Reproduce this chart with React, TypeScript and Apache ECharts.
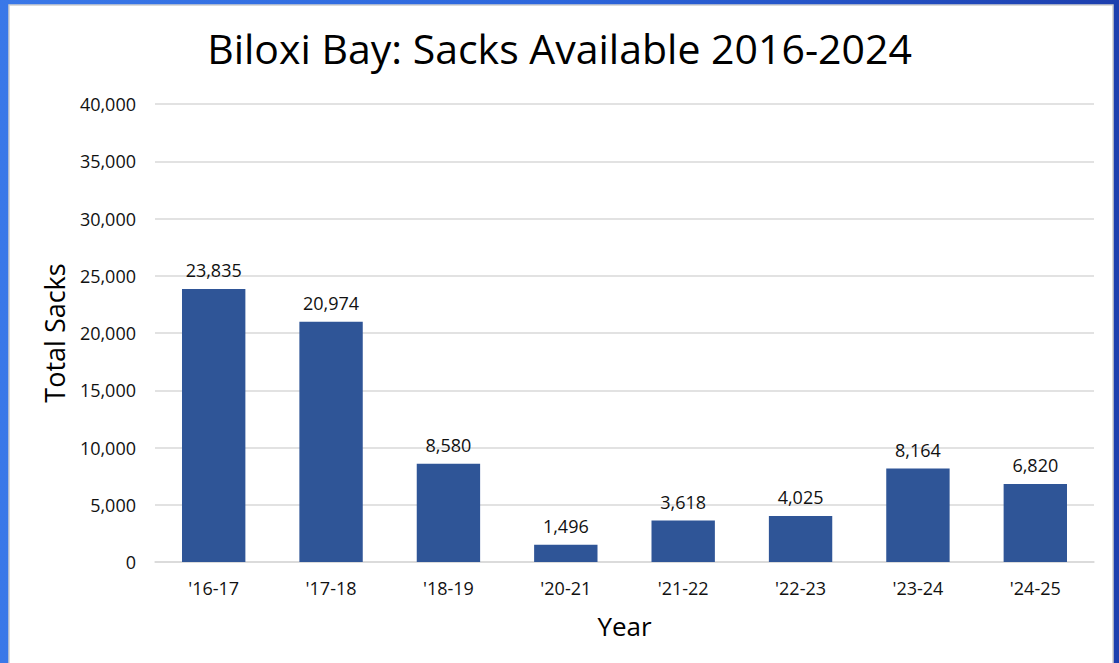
import React, { useEffect, useRef } from "react";
import * as echarts from "echarts";

const categories = ["'16-17", "'17-18", "'18-19", "'20-21", "'21-22", "'22-23", "'23-24", "'24-25"];
const sacks = [23835, 20974, 8580, 1496, 3618, 4025, 8164, 6820];
const titleText = "Biloxi Bay: Sacks Available 2016-2024";
const yAxisName = "Total Sacks";
const xAxisName = "Year";

const FONT = "Open Sans";

export default function App() {
  const ref = useRef<HTMLDivElement>(null);
  useEffect(() => {
    if (!ref.current) return;
    const chart = echarts.init(ref.current, undefined, { renderer: "svg" });
    chart.setOption({
      animation: false,
      backgroundColor: "transparent",
      textStyle: { fontFamily: FONT },
      graphic: [
        {
          type: "rect",
          z: -10,
          shape: { x: 9, y: 5, width: 1104, height: 670 },
          style: { fill: "#ffffff", stroke: "#d0d0d0", lineWidth: 1.5 },
        },
        {
          type: "text",
          left: "center",
          top: 27,
          style: { text: titleText, fontSize: 41, fontFamily: FONT, fill: "#000000" },
        },
      ],
      grid: { left: 155, right: 25, top: 104, bottom: 101 },
      xAxis: {
        type: "category",
        data: categories,
        name: xAxisName,
        nameLocation: "middle",
        nameGap: 51,
        nameTextStyle: { fontSize: 26, color: "#000000", fontFamily: FONT },
        axisLine: { lineStyle: { color: "#d9d9d9", width: 1.5 } },
        axisTick: { show: false },
        axisLabel: { fontSize: 18, color: "#111111", margin: 17, fontFamily: FONT },
      },
      yAxis: {
        type: "value",
        min: 0,
        max: 40000,
        interval: 5000,
        name: yAxisName,
        nameLocation: "middle",
        nameGap: 87,
        nameTextStyle: { fontSize: 27, color: "#000000", fontFamily: FONT },
        axisLine: { show: false },
        axisTick: { show: false },
        splitLine: { lineStyle: { color: "#d9d9d9", width: 1.5 } },
        axisLabel: {
          fontSize: 18,
          color: "#111111",
          margin: 19,
          fontFamily: FONT,
          formatter: (v: number) => v.toLocaleString("en-US"),
        },
      },
      series: [
        {
          type: "bar",
          data: sacks,
          barWidth: "54%",
          itemStyle: { color: "#2F5597" },
          label: {
            show: true,
            position: "top",
            distance: 10,
            fontSize: 18,
            color: "#111111",
            fontFamily: FONT,
            formatter: (p: any) => Number(p.value).toLocaleString("en-US"),
          },
        },
      ],
    });
    return () => chart.dispose();
  }, []);
  return (
    <div
      style={{
        position: "fixed",
        left: 0,
        top: 0,
        width: 1119,
        height: 663,
        background: "linear-gradient(90deg, #3a78e8 0%, #2d66dc 50%, #1d3fae 100%)",
      }}
    >
      <div ref={ref} style={{ width: 1119, height: 663 }} />
    </div>
  );
}
